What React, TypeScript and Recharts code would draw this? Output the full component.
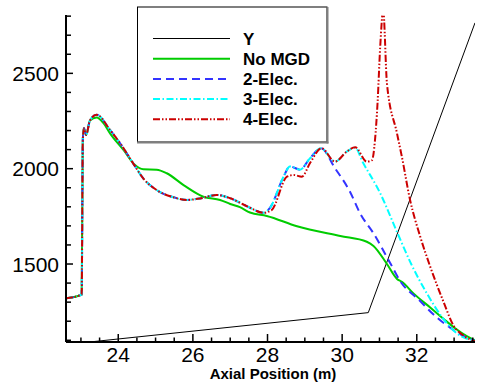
import { LineChart, Line, XAxis, YAxis } from 'recharts';

type Pt = { x: number; y: number };
const pts = (rows: number[][]): Pt[] => rows.map(([x, y]) => ({ x, y }));

// values
const yLine = pts([[22.6, 1078], [30.7, 1245], [33.56, 2765]]);

const riseCommon = [
  [22.6, 1320], [23.02, 1340], [23.05, 2150], [23.08, 2212], [23.14, 2177], [23.24, 2252],
];

const noMgd = pts([
  ...riseCommon,
  [23.42, 2268], [23.6, 2240], [23.78, 2185], [24.14, 2098], [24.45, 2019], [24.67, 1997],
  [25.03, 1995], [25.3, 1976], [25.75, 1914], [26.28, 1853], [26.73, 1836], [27.0, 1815],
  [27.26, 1798], [27.53, 1770], [27.98, 1752], [28.79, 1698], [29.95, 1647], [30.66, 1617],
  [30.84, 1595], [31.2, 1500], [31.47, 1422], [31.6, 1407], [31.91, 1346], [32.36, 1272],
  [32.72, 1212], [33.0, 1167], [33.34, 1122], [33.56, 1100],
]);

const elecCommon = [
  ...riseCommon,
  [23.42, 2283], [23.78, 2203], [24.05, 2133], [24.4, 2028], [24.67, 1949], [25.03, 1888],
  [25.48, 1850], [25.84, 1836], [26.19, 1844], [26.64, 1862], [27.0, 1845], [27.44, 1804],
  [27.89, 1769],
];

const twoElec = pts([
  ...elecCommon,
  [28.07, 1796], [28.43, 1958], [28.6, 2012], [28.87, 1995], [29.14, 2055], [29.43, 2107],
  [29.81, 2002], [30.21, 1879], [30.48, 1766], [30.84, 1661], [31.29, 1504], [31.55, 1412],
  [32.09, 1306], [32.45, 1235], [32.9, 1165], [33.3, 1118], [33.56, 1097],
]);

const threeElec = pts([
  ...elecCommon,
  [28.07, 1796], [28.43, 1958], [28.6, 2012], [28.87, 1995], [29.14, 2055], [29.43, 2107],
  [29.81, 2037], [30.12, 2089], [30.35, 2110], [30.55, 2035], [31.02, 1871], [31.47, 1668],
  [31.85, 1500], [32.27, 1346], [32.7, 1215], [33.07, 1137], [33.56, 1098],
]);

const fourElec = pts([
  ...elecCommon,
  [28.11, 1783], [28.52, 1958], [28.7, 1967], [28.92, 1958], [29.14, 2030], [29.45, 2107],
  [29.81, 2037], [30.12, 2089], [30.35, 2112], [30.66, 2037], [30.8, 2045], [30.88, 2150],
  [30.95, 2350], [31.02, 2640], [31.1, 2830], [31.2, 2448], [31.47, 2185], [31.6, 2063],
  [31.82, 1836], [32.09, 1645], [32.36, 1486], [32.72, 1300], [32.99, 1175], [33.25, 1125],
  [33.56, 1095],
]);

const xTicks = Array.from({ length: 22 }, (_, i) => 23 + i * 0.5);
const yTicks = Array.from({ length: 18 }, (_, i) => 1100 + i * 100);

const FONT = "'Liberation Sans', Arial, sans-serif";

const series = [
  { name: 'Y', data: yLine, color: '#000000', width: 1, dash: undefined, curve: 'linear' },
  { name: 'No MGD', data: noMgd, color: '#00cc00', width: 2, dash: undefined, curve: 'monotone' },
  { name: '2-Elec.', data: twoElec, color: '#3333ff', width: 2, dash: '8 5', curve: 'monotone' },
  { name: '3-Elec.', data: threeElec, color: '#00ffff', width: 2, dash: '7 2.5 1.5 2.5', curve: 'monotone' },
  { name: '4-Elec.', data: fourElec, color: '#cc0000', width: 2, dash: '7 2 1.5 2 1.5 2', curve: 'monotone' },
];

function XTick({ x, y, payload }: any) {
  const v = payload.value;
  const major = Math.abs(v % 2) < 1e-6;
  return (
    <g>
      <line x1={x} x2={x} y1={y} y2={y - (major ? 8 : 4.5)} stroke="#000" strokeWidth={1.5} />
      {major && (
        <text x={x} y={y + 20} textAnchor="middle" fontSize={21} fontFamily={FONT} fill="#000">
          {v}
        </text>
      )}
    </g>
  );
}

function YTick({ x, y, payload }: any) {
  const v = payload.value;
  const major = v % 500 === 0;
  return (
    <g>
      <line x1={x} x2={x + (major ? 7 : 5)} y1={y} y2={y} stroke="#000" strokeWidth={1.5} />
      {major && (
        <text x={x - 7} y={y + 7.5} textAnchor="end" fontSize={21} fontFamily={FONT} fill="#000">
          {v}
        </text>
      )}
    </g>
  );
}

export default function App() {
  return (
    <div style={{ position: 'absolute', left: 0, top: 0, width: 477, height: 385, background: '#fff' }}>
      <LineChart width={477} height={385} margin={{ top: 15, right: 2, left: 6, bottom: 0 }}>
        <XAxis
          dataKey="x"
          type="number"
          domain={[22.6, 33.56]}
          allowDataOverflow
          ticks={xTicks}
          interval={0}
          height={43}
          tickSize={0}
          tickMargin={0}
          tick={<XTick />}
          axisLine={{ stroke: '#000', strokeWidth: 2 }}
        />
        <YAxis
          type="number"
          domain={[1091, 2806]}
          allowDataOverflow
          ticks={yTicks}
          interval={0}
          width={60}
          tickSize={0}
          tickMargin={0}
          tick={<YTick />}
          axisLine={{ stroke: '#000', strokeWidth: 2 }}
        />
        {series.map((s) => (
          <Line
            key={s.name}
            data={s.data}
            dataKey="y"
            type={s.curve as any}
            stroke={s.color}
            strokeWidth={s.width}
            strokeDasharray={s.dash}
            dot={false}
            isAnimationActive={false}
          />
        ))}
      </LineChart>
      <svg
        width={477}
        height={385}
        style={{ position: 'absolute', left: 0, top: 0, pointerEvents: 'none' }}
      >
        <rect x={137.5} y={7} width={189.5} height={135} fill="#fff" stroke="#000" strokeWidth={1} />
        <line x1={327.5} x2={327.5} y1={7} y2={143.5} stroke="#7f7f7f" strokeWidth={2} />
        <line x1={137} x2={328.5} y1={142.5} y2={142.5} stroke="#7f7f7f" strokeWidth={2} />
        {series.map((s, i) => {
          const cy = 38.5 + i * 20.2;
          return (
            <g key={s.name}>
              <line
                x1={153}
                x2={230}
                y1={cy}
                y2={cy}
                stroke={s.color}
                strokeWidth={s.width}
                strokeDasharray={s.dash}
              />
              <text x={243} y={cy + 6} fontSize={17} fontWeight="bold" fontFamily={FONT} fill="#000">
                {s.name}
              </text>
            </g>
          );
        })}
        <text x={273} y={379} textAnchor="middle" fontSize={15} fontWeight="bold" fontFamily={FONT} fill="#000">
          Axial Position (m)
        </text>
      </svg>
    </div>
  );
}
